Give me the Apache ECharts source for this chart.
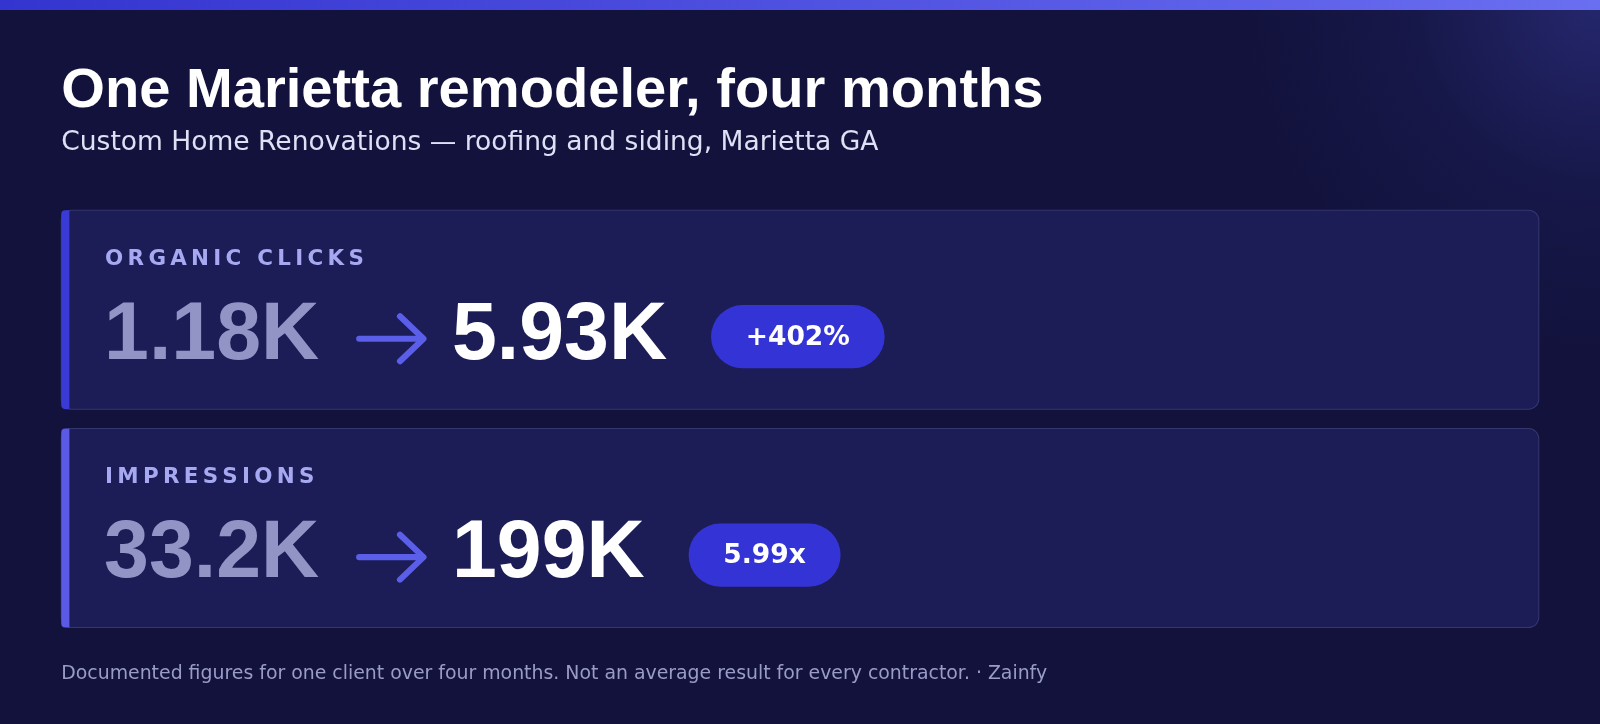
<!DOCTYPE html>
<html><head><meta charset="utf-8">
<script src="https://cdn.jsdelivr.net/npm/echarts@6/dist/echarts.min.js"></script>
<style>html,body{margin:0;padding:0;background:#13133f}#c{width:1600px;height:724px}</style>
</head><body><div id="c"></div>
<script>
const title = "One Marietta remodeler, four months";
const subtitle = "Custom Home Renovations — roofing and siding, Marietta GA";
const metrics = ["ORGANIC CLICKS", "IMPRESSIONS"];
const beforeVals = ["1.18K", "33.2K"];
const afterVals = ["5.93K", "199K"];
const badges = ["+402%", "5.99x"];
const footnote = "Documented figures for one client over four months. Not an average result for every contractor. · Zainfy";

const chart = echarts.init(document.getElementById('c'));
const cv = document.createElement('canvas').getContext('2d');
function tw(t, f){ cv.font = f; return cv.measureText(t).width; }
const S = 1600/1568;
const bigFont = 'bold 79px "Liberation Sans"';
const badgeFont = 'bold 26px "DejaVu Sans"';
const accents = ['#3a3ad6', '#5a5ae6'];
const g = [];
g.push({type:'text', style:{x:60,y:90,text:title,font:'bold 55px "Liberation Sans"',fill:'#ffffff',verticalAlign:'middle'}});
g.push({type:'text', style:{x:60,y:140,text:subtitle,font:'26px "DejaVu Sans"',fill:'#dfe0f5',verticalAlign:'middle'}});
metrics.forEach((m,i)=>{
  const y0 = 206 + i*214, h = 195;
  g.push({type:'rect', shape:{x:60,y:y0,width:1448,height:h,r:10}, style:{fill:'#1c1d56',stroke:'#34366e',lineWidth:1}});
  g.push({type:'rect', shape:{x:60,y:y0,width:8,height:h,r:[4,0,0,4]}, style:{fill:accents[i]}});
  g.push({type:'text', style:{x:103,y:y0+48,text:m.split('').join('\u2009'),font:'bold 21px "DejaVu Sans"',fill:'#a6a9f2',verticalAlign:'middle'}});
  const cy = y0 + 124;
  g.push({type:'text', style:{x:102,y:cy,text:beforeVals[i],font:bigFont,fill:'#9394c6',verticalAlign:'middle'}});
  g.push({type:'polyline', shape:{points:[[352,cy+2],[414,cy+2]]}, style:{stroke:'#5a5ee8',lineWidth:6,lineCap:'round'}});
  g.push({type:'polyline', shape:{points:[[392,cy-20],[415,cy+2],[392,cy+24]]}, style:{stroke:'#5a5ee8',lineWidth:6,lineCap:'round',lineJoin:'round',fill:null}});
  g.push({type:'text', style:{x:443,y:cy,text:afterVals[i],font:bigFont,fill:'#ffffff',verticalAlign:'middle'}});
  const bx = 443 + tw(afterVals[i], bigFont) + 43;
  const bw = tw(badges[i], badgeFont) + 68;
  g.push({type:'rect', shape:{x:bx,y:cy-31,width:bw,height:62,r:31}, style:{fill:'#3434d6'}});
  g.push({type:'text', style:{x:bx+bw/2,y:cy+1,text:badges[i],font:badgeFont,fill:'#ffffff',align:'center',verticalAlign:'middle'}});
});
g.push({type:'text', style:{x:60,y:661,text:footnote,font:'18.5px "DejaVu Sans"',fill:'#9a9cc8',verticalAlign:'middle'}});
chart.setOption({
  backgroundColor: new echarts.graphic.RadialGradient(1,0,0.5,[{offset:0,color:'#25276e'},{offset:0.5,color:'#17184a'},{offset:1,color:'#12123c'}]),
  graphic: [
    {type:'rect', shape:{x:0,y:0,width:1600,height:10}, style:{fill:new echarts.graphic.LinearGradient(0,0,1,0,[{offset:0,color:'#3434d0'},{offset:1,color:'#6a6ef0'}])}},
    {type:'group', x:0, y:0, scaleX:S, scaleY:S, children:g}
  ]
});
</script></body></html>
